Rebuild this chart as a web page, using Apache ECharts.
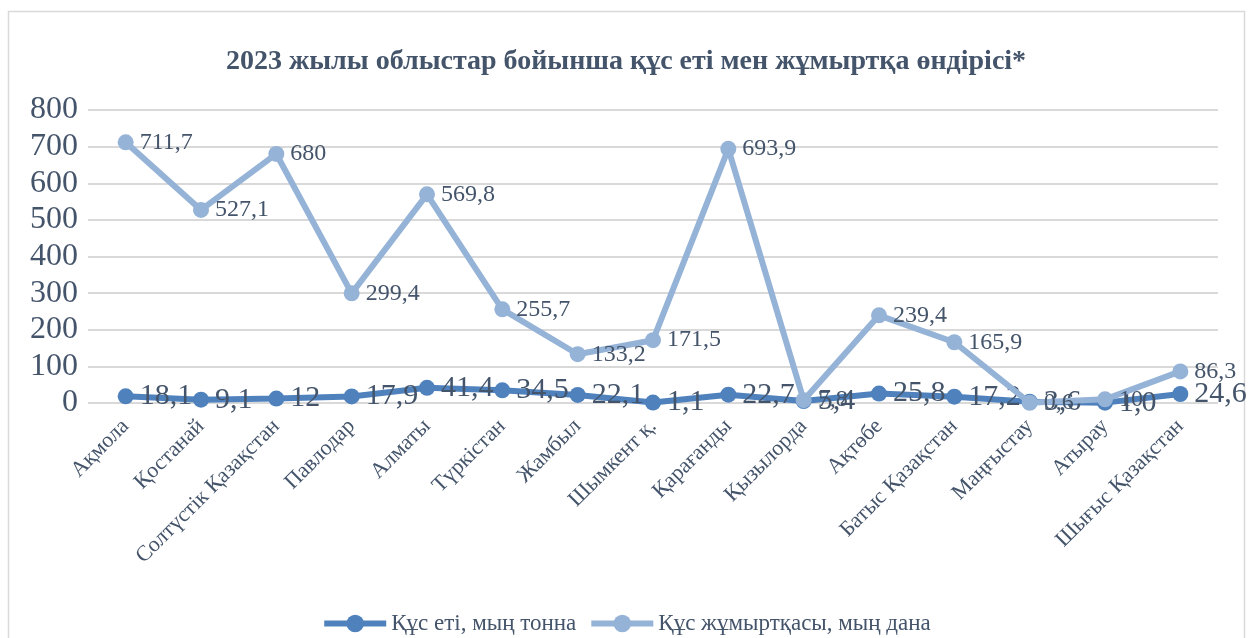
<!DOCTYPE html>
<html>
<head>
<meta charset="utf-8">
<script src="https://cdn.jsdelivr.net/npm/echarts@6/dist/echarts.min.js"></script>
<style>
html,body{margin:0;padding:0;background:#fff;}
#c{width:1252px;height:638px;}
</style>
</head>
<body>
<div id="c"></div>
<script>
const categories = ['Ақмола','Қостанай','Солтүстік Қазақстан','Павлодар','Алматы','Түркістан','Жамбыл','Шымкент қ.','Қарағанды','Қызылорда','Ақтөбе','Батыс Қазақстан','Маңғыстау','Атырау','Шығыс Қазақстан'];
const meatValues = [18.1, 9.1, 12, 17.9, 41.4, 34.5, 22.1, 1.1, 22.7, 5.4, 25.8, 17.2, 3.6, 1.0, 24.6];
const meatLabels = ['18,1','9,1','12','17,9','41,4','34,5','22,1','1,1','22,7','5,4','25,8','17,2','3,6','1,0','24,6'];
const eggValues = [711.7, 527.1, 680, 299.4, 569.8, 255.7, 133.2, 171.5, 693.9, 7.8, 239.4, 165.9, 0.6, 10, 86.3];
const eggLabels = ['711,7','527,1','680','299,4','569,8','255,7','133,2','171,5','693,9','7,8','239,4','165,9','0,6','10','86,3'];
const yTicks = [0, 100, 200, 300, 400, 500, 600, 700, 800];
const seriesNames = ['Құс еті, мың тонна', 'Құс жұмыртқасы, мың дана'];
const titleText = '2023 жылы облыстар бойынша құс еті мен жұмыртқа өндірісі*';

const serif = "'Liberation Serif', 'DejaVu Serif', serif";
const textColor = '#44546a';
const meatColor = '#4f81bd';
const eggColor = '#95b3d7';

const chart = echarts.init(document.getElementById('c'), null, {renderer: 'canvas'});
chart.setOption({
  animation: false,
  backgroundColor: '#fff',
  graphic: [{
    type: 'rect',
    shape: {x: 8.5, y: 11.5, width: 1236, height: 640},
    style: {fill: 'none', stroke: '#d9d9d9', lineWidth: 1.5},
    silent: true
  }],
  title: {
    text: titleText,
    left: 'center',
    top: 43,
    textStyle: {fontFamily: serif, fontWeight: 'bold', fontSize: 28, color: textColor}
  },
  legend: {
    bottom: -2,
    left: 'center',
    itemWidth: 62,
    itemHeight: 22,
    itemGap: 12,
    lineStyle: {width: 6},
    textStyle: {fontFamily: serif, fontSize: 23, color: textColor},
    data: seriesNames
  },
  grid: {left: 88, right: 34, top: 110, bottom: 235, containLabel: false},
  xAxis: {
    type: 'category',
    data: categories,
    boundaryGap: true,
    axisLine: {show: false},
    axisTick: {show: false},
    axisLabel: {rotate: 45, fontFamily: serif, fontSize: 22, color: textColor, margin: 20, interval: 0}
  },
  yAxis: {
    type: 'value',
    min: yTicks[0],
    max: yTicks[yTicks.length - 1],
    interval: 100,
    axisLine: {show: false},
    axisTick: {show: false},
    axisLabel: {fontFamily: serif, fontSize: 32, color: textColor, margin: 10},
    splitLine: {lineStyle: {color: '#d9d9d9', width: 2}}
  },
  series: [
    {
      name: seriesNames[0],
      type: 'line',
      data: meatValues,
      symbol: 'circle',
      symbolSize: 16,
      lineStyle: {width: 6, color: meatColor},
      itemStyle: {color: meatColor},
      z: 2,
      label: {
        show: true, position: 'right', distance: 6,
        fontFamily: serif, fontSize: 30, color: textColor,
        formatter: p => meatLabels[p.dataIndex]
      }
    },
    {
      name: seriesNames[1],
      type: 'line',
      data: eggValues,
      symbol: 'circle',
      symbolSize: 16,
      lineStyle: {width: 6, color: eggColor},
      itemStyle: {color: eggColor},
      z: 3,
      label: {
        show: true, position: 'right', distance: 6,
        fontFamily: serif, fontSize: 24, color: textColor,
        formatter: p => eggLabels[p.dataIndex]
      }
    }
  ]
});
</script>
</body>
</html>
